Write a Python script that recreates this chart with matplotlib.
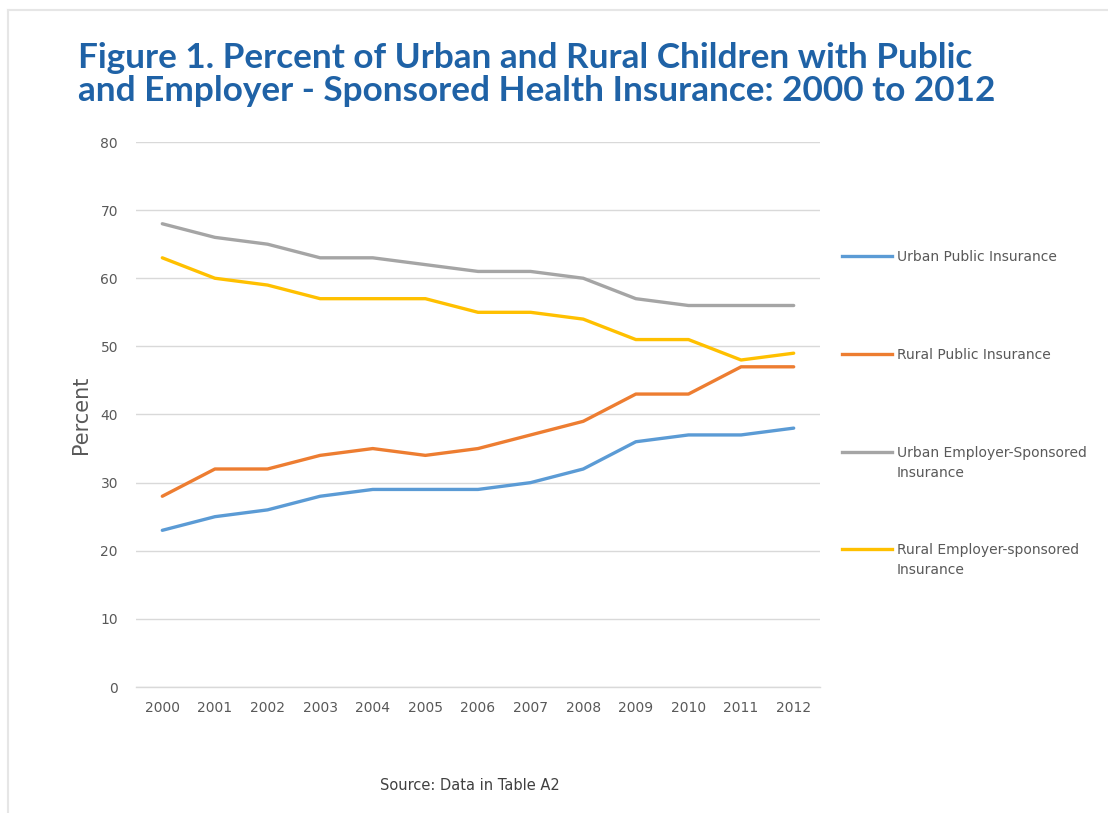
import matplotlib.pyplot as plt
from matplotlib.lines import Line2D

# Data
years = ['2000', '2001', '2002', '2003', '2004', '2005', '2006',
         '2007', '2008', '2009', '2010', '2011', '2012']
urban_public = [23, 25, 26, 28, 29, 29, 29, 30, 32, 36, 37, 37, 38]
rural_public = [28, 32, 32, 34, 35, 34, 35, 37, 39, 43, 43, 47, 47]
urban_employer = [68, 66, 65, 63, 63, 62, 61, 61, 60, 57, 56, 56, 56]
rural_employer = [63, 60, 59, 57, 57, 57, 55, 55, 54, 51, 51, 48, 49]

series = [
    ('Urban Public Insurance', urban_public, '#5B9BD5'),
    ('Rural Public Insurance', rural_public, '#ED7D31'),
    ('Urban Employer-Sponsored\nInsurance', urban_employer, '#A5A5A5'),
    ('Rural Employer-sponsored\nInsurance', rural_employer, '#FFC000'),
]

W, H = 1108, 813
fig = plt.figure(figsize=(W / 100, H / 100), dpi=100)
ax = fig.add_axes([136 / W, 1 - 687 / H, (820 - 136) / W, (687 - 142) / H])

x = list(range(len(years)))
for label, vals, color in series:
    ax.plot(x, vals, color=color, lw=2.4, solid_capstyle='round', zorder=3)

ax.set_xlim(-0.5, len(years) - 0.5)
ax.set_ylim(0, 80)
ax.set_yticks(range(0, 81, 10))
ax.set_xticks(x)
ax.set_xticklabels(years)
ax.grid(axis='y', color='#D9D9D9', lw=1)
ax.axhline(0, color='#D9D9D9', lw=1, clip_on=False, zorder=1)
ax.set_axisbelow(True)
for s in ax.spines.values():
    s.set_visible(False)
ax.tick_params(length=0, labelsize=10, labelcolor='#595959', pad=10)
ax.tick_params(axis='y', pad=13)
ax.set_ylabel('Percent', fontsize=15, color='#595959', labelpad=7)

# legend on the right, one entry per series
leg_y = [256, 354, 452, 549]
for (label, vals, color), yy in zip(series, leg_y):
    fig.add_artist(Line2D([842 / W, 892 / W], [1 - yy / H, 1 - yy / H],
                          color=color, lw=2.4, transform=fig.transFigure))
    fig.text(897 / W, 1 - (yy - 6) / H, label, fontsize=10, color='#595959',
             va='top', ha='left', linespacing=1.5)

fig.text(78 / W, 1 - 42 / H,
         'Figure 1. Percent of Urban and Rural Children with Public\n'
         'and Employer - Sponsored Health Insurance: 2000 to 2012',
         fontsize=25.3, fontweight='bold', color='#1F62A6', va='top',
         ha='left', linespacing=1.05, family='Lato')

fig.text(470 / W, 1 - 785 / H, 'Source: Data in Table A2', fontsize=10.5,
         color='#404040', ha='center', va='center')

# light frame around the figure
fig.add_artist(Line2D([8 / W, 1], [1 - 10 / H, 1 - 10 / H], color='#E6E6E6',
                      lw=1.5, transform=fig.transFigure))
fig.add_artist(Line2D([8 / W, 8 / W], [1 - 10 / H, 0], color='#E6E6E6',
                      lw=1.5, transform=fig.transFigure))

fig.savefig('out.png', dpi=100)
